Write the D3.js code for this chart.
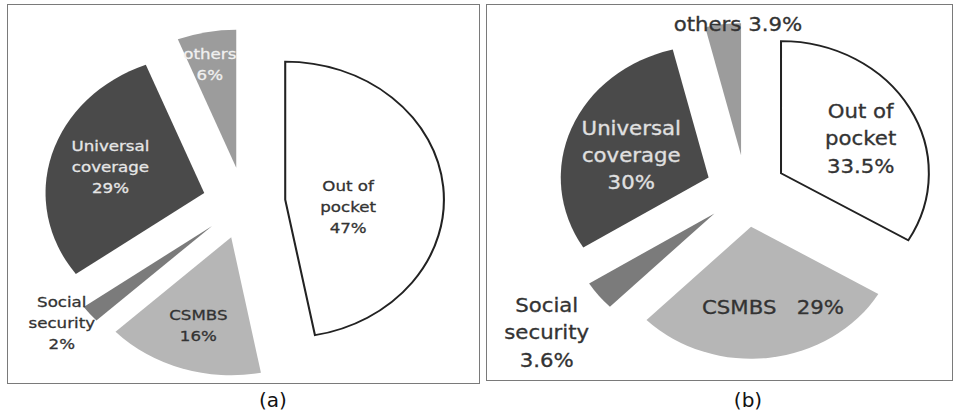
<!DOCTYPE html>
<html>
<head>
<meta charset="utf-8">
<script src="https://cdn.jsdelivr.net/npm/d3@7"></script>
<style>
  body { margin: 0; background: #fff; }
  svg text { font-family: "DejaVu Sans", Verdana, sans-serif; white-space: pre; }
</style>
</head>
<body>
<svg id="chart" width="955" height="416"></svg>
<script>
// categories, clockwise from 12 o'clock
const categories = ["Out of pocket", "CSMBS", "Social security", "Universal coverage", "others"];
const valuesA = [47, 16, 2, 29, 6];
const valuesB = [33.5, 29, 3.6, 30, 3.9];
const labelsA = [["Out of", "pocket", "47%"], ["CSMBS", "16%"], ["Social", "security", "2%"], ["Universal", "coverage", "29%"], ["others", "6%"]];
const labelsB = [["Out of", "pocket", "33.5%"], ["CSMBS   29%"], ["Social", "security", "3.6%"], ["Universal", "coverage", "30%"], ["others 3.9%"]];
const captions = ["(a)", "(b)"];

const fills = ["#ffffff", "#b6b6b6", "#7b7b7b", "#4a4a4a", "#9c9c9c"];
const textA = ["#333", "#333", "#333", "#e6e6e6", "#f0f0f0"];
const textB = ["#333", "#333", "#333", "#e0e0e0", "#333"];
// label placement: [radius fraction, angle shift in degrees]
const labelPosA = [[0.40, 13], [0.67, 0], [1.18, 3], [0.62, 1.4], [0.77, -1.7]];
const labelPosB = [[0.60, 3.6], [0.63, -6.4], [1.45, 0], [0.55, -4], [0.99, 5.8]];

const svg = d3.select("#chart");

const panels = [
    {values: valuesA, labels: labelsA, textColor: textA, labelPos: labelPosA,
     box: [7, 4, 472, 379], cx: 244, cy: 203, sx: 1.15, r: 138, explode: 36, font: 14.5, lh: 21, cap: [273, 400]},
    {values: valuesB, labels: labelsB, textColor: textB, labelPos: labelPosB,
     box: [486, 4, 466, 376], cx: 746, cy: 191, sx: 1.12, r: 132, explode: 36, font: 19, lh: 27.5, cap: [748, 400]}
];

const pie = d3.pie().sort(null).value(d => d);

panels.forEach((p, pi) => {
    svg.append("rect")
        .attr("x", p.box[0] + 0.5).attr("y", p.box[1] + 0.5)
        .attr("width", p.box[2]).attr("height", p.box[3])
        .attr("fill", "none").attr("stroke", "#7a7a7a").attr("stroke-width", 1);

    const g = svg.append("g")
        .attr("transform", `translate(${p.cx},${p.cy}) scale(${p.sx},1)`);

    const arc = d3.arc().innerRadius(0).outerRadius(p.r);
    const arcs = pie(p.values);

    // explode each slice along its mid angle
    const off = d => {
        const a = (d.startAngle + d.endAngle) / 2;
        return [Math.sin(a) * p.explode, -Math.cos(a) * p.explode];
    };

    g.selectAll("path.slice")
        .data(arcs)
        .join("path")
        .attr("class", "slice")
        .attr("d", arc)
        .attr("transform", d => `translate(${off(d)})`)
        .attr("fill", (d, i) => fills[i])
        .attr("stroke", (d, i) => i === 0 ? "#222" : "none")
        .attr("stroke-width", 1.8)
        .attr("stroke-linejoin", "miter");

    const lbl = g.selectAll("text.lbl")
        .data(arcs)
        .join("text")
        .attr("class", "lbl")
        .attr("text-anchor", "middle")
        .attr("font-size", p.font)
        .attr("fill", (d, i) => p.textColor[i])
        .attr("stroke", (d, i) => p.textColor[i])
        .attr("stroke-width", 0.3)
        .attr("transform", (d, i) => {
            const [fr, sh] = p.labelPos[i];
            const a = (d.startAngle + d.endAngle) / 2 + sh * Math.PI / 180;
            const o = off(d);
            const x = o[0] + Math.sin(a) * p.r * fr;
            const y = o[1] - Math.cos(a) * p.r * fr;
            return `translate(${x},${y})`;
        });

    lbl.each(function(d, i) {
        const lines = p.labels[i];
        const t = d3.select(this);
        const y0 = -(lines.length - 1) * p.lh / 2 + p.font * 0.36;
        lines.forEach((s, k) => {
            t.append("tspan").attr("x", 0).attr("y", y0 + k * p.lh).text(s);
        });
    });

    svg.append("text")
        .attr("x", p.cap[0]).attr("y", p.cap[1] + 7)
        .attr("text-anchor", "middle")
        .attr("font-size", 20)
        .attr("fill", "#111")
        .text(captions[pi]);
});
</script>
</body>
</html>
